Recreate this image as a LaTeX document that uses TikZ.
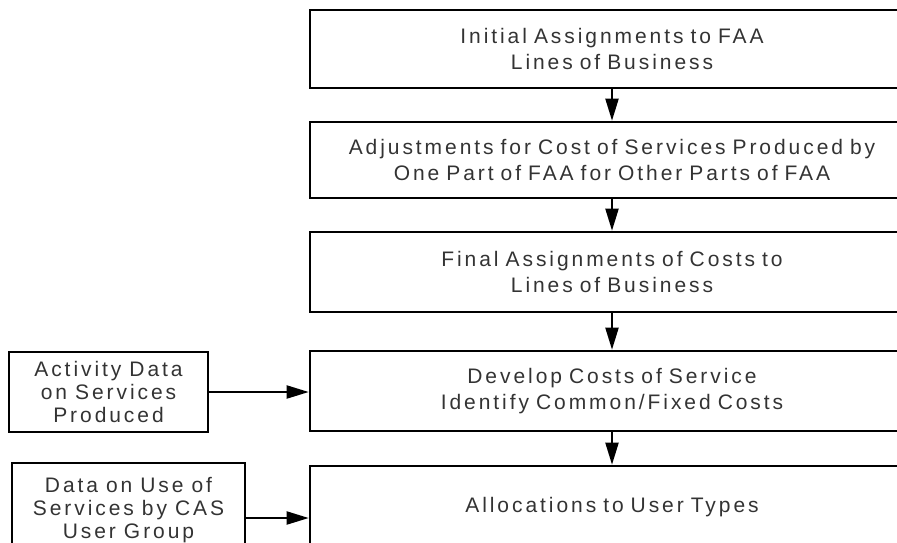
\documentclass[tikz,border=0pt]{standalone}
\usepackage{fontspec}
\setmainfont{Liberation Sans}[LetterSpace=14]
\usetikzlibrary{arrows.meta}
\newcommand\stagefont{\fontsize{21}{25.5}\selectfont\setlength{\spaceskip}{9pt}}
\newcommand\feedfont{\fontsize{21}{23}\selectfont\setlength{\spaceskip}{8pt}}

\tikzset{
  stage/.style={draw, line width=2.6pt, minimum width=604pt, text width=598pt,
    align=center, inner sep=0pt, text=black!80, font=\stagefont},
  feed/.style={draw, line width=2.6pt, align=center, inner sep=0pt,
    text=black!80, font=\feedfont},
  flow/.style={-{Triangle[length=22pt,width=13pt]}, line width=2pt}
}

\begin{document}
\begin{tikzpicture}[x=1pt,y=-1pt]
		%%%%% FRAME %%%%%
		\useasboundingbox (0,0) rectangle (897,542);
		\clip (0,0) rectangle (897,542);
		
		%%%%% MAIN STAGES %%%%%
		\node[stage, minimum height=78pt] (initial) at (612,49) {Initial Assignments to FAA\\Lines of Business};
		\node[stage, minimum height=76pt] (adjust) at (612,160) {Adjustments for Cost of Services Produced by\\One Part of FAA for Other Parts of FAA};
		\node[stage, minimum height=80pt] (final) at (612,272) {Final Assignments of Costs to\\Lines of Business};
		\node[stage, minimum height=80pt] (develop) at (612,391) {Develop Costs of Service\\Identify Common/Fixed Costs};
		\node[stage, minimum height=82pt] (alloc) at (612,507) {Allocations to User Types};
		
		%%%%% INPUT DATA %%%%%
		\node[feed, minimum width=199pt, minimum height=80pt] (activity) at (108.5,392) {Activity Data\\on Services\\Produced};
		\node[feed, minimum width=233pt, minimum height=94pt] (usedata) at (128.5,510) {Data on Use of\\Services by CAS\\User Group};
		
		%%%%% ARROWS %%%%%
		\draw[flow] (initial) -- (adjust);
		\draw[flow] (adjust) -- (final);
		\draw[flow] (final) -- (develop);
		\draw[flow] (develop) -- (alloc);
		\draw[flow] (activity.east) -- (activity.east -| develop.west);
		\draw[flow] ([yshift=-8pt]usedata.east) -- ([yshift=-8pt]usedata.east -| alloc.west);
		
		%%%%% END %%%%%
	\end{tikzpicture}
\end{document}
